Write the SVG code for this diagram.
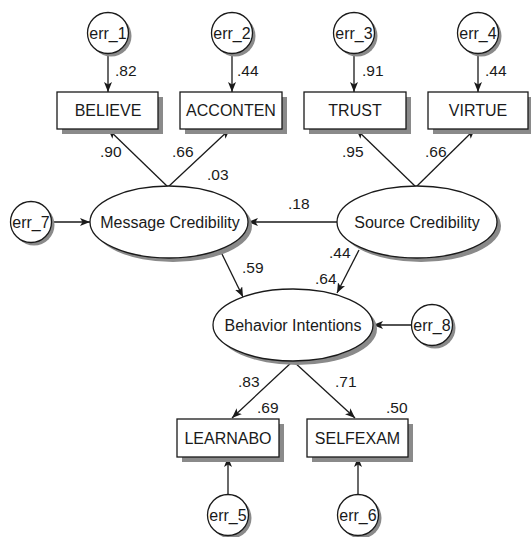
<svg xmlns="http://www.w3.org/2000/svg" width="531" height="537" viewBox="0 0 531 537">
  <style>
    .shape { fill: #fff; stroke: #1a1a1a; stroke-width: 1.3; }
    .shadow { fill: #8a8a8a; stroke: none; }
    .name { font-family: "Liberation Sans", Arial, sans-serif; font-size: 16px; fill: #1a1a1a; text-anchor: middle; dominant-baseline: central; }
    .err { font-family: "Liberation Sans", Arial, sans-serif; font-size: 16px; fill: #1a1a1a; text-anchor: middle; dominant-baseline: central; }
    .coef { font-family: "Liberation Sans", Arial, sans-serif; font-size: 15.5px; fill: #1a1a1a; dominant-baseline: central; }
    .edge { stroke: #1a1a1a; stroke-width: 1.3; fill: none; marker-end: url(#arrow); }
  </style>
  <defs>
    <marker id="arrow" viewBox="0 0 10 8" refX="10" refY="4" markerWidth="10" markerHeight="8" markerUnits="userSpaceOnUse" orient="auto">
      <path d="M0,0 L10,4 L0,8 L2.5,4 z" fill="#1a1a1a"/>
    </marker>
  </defs>

  <!-- connectors -->
  <g id="connectors">
    <line class="edge" x1="108" y1="54" x2="108" y2="92"/>
    <line class="edge" x1="232" y1="54" x2="232" y2="92"/>
    <line class="edge" x1="354" y1="54" x2="354" y2="92"/>
    <line class="edge" x1="478" y1="54" x2="478" y2="92"/>
    <line class="edge" x1="168" y1="187" x2="108" y2="129"/>
    <line class="edge" x1="168" y1="187" x2="230" y2="129"/>
    <line class="edge" x1="416" y1="187" x2="356" y2="129"/>
    <line class="edge" x1="416" y1="187" x2="475" y2="129"/>
    <line class="edge" x1="337" y1="222" x2="248" y2="222"/>
    <line class="edge" x1="52" y1="222" x2="90" y2="222"/>
    <line class="edge" x1="220" y1="250" x2="243" y2="297"/>
    <line class="edge" x1="359" y1="250" x2="337" y2="293"/>
    <line class="edge" x1="411" y1="325" x2="373" y2="325"/>
    <line class="edge" x1="293" y1="361" x2="232" y2="418"/>
    <line class="edge" x1="293" y1="361" x2="355" y2="418"/>
    <line class="edge" x1="228" y1="494" x2="228" y2="457"/>
    <line class="edge" x1="358" y1="494" x2="358" y2="457"/>
  </g>

  <!-- path coefficients -->
  <g id="coefficients">
    <text class="coef" x="115" y="70">.82</text>
    <text class="coef" x="237" y="70">.44</text>
    <text class="coef" x="362" y="70">.91</text>
    <text class="coef" x="485" y="70">.44</text>
    <text class="coef" x="100" y="151">.90</text>
    <text class="coef" x="172" y="151">.66</text>
    <text class="coef" x="207" y="174">.03</text>
    <text class="coef" x="342" y="151">.95</text>
    <text class="coef" x="425" y="151">.66</text>
    <text class="coef" x="288" y="203">.18</text>
    <text class="coef" x="242" y="267">.59</text>
    <text class="coef" x="329" y="252">.44</text>
    <text class="coef" x="315" y="278">.64</text>
    <text class="coef" x="238" y="381">.83</text>
    <text class="coef" x="257" y="407">.69</text>
    <text class="coef" x="335" y="381">.71</text>
    <text class="coef" x="386" y="407">.50</text>
  </g>

  <!-- error terms -->
  <g id="err_1"><circle class="shadow" cx="111" cy="36" r="20.5"/><circle class="shape" cx="108" cy="33" r="20.5"/><text class="err" x="108" y="33">err_1</text></g>
  <g id="err_2"><circle class="shadow" cx="235" cy="36" r="20.5"/><circle class="shape" cx="232" cy="33" r="20.5"/><text class="err" x="232" y="33">err_2</text></g>
  <g id="err_3"><circle class="shadow" cx="357" cy="36" r="20.5"/><circle class="shape" cx="354" cy="33" r="20.5"/><text class="err" x="354" y="33">err_3</text></g>
  <g id="err_4"><circle class="shadow" cx="481" cy="36" r="20.5"/><circle class="shape" cx="478" cy="33" r="20.5"/><text class="err" x="478" y="33">err_4</text></g>
  <g id="err_7"><circle class="shadow" cx="34" cy="225" r="20.5"/><circle class="shape" cx="31" cy="222" r="20.5"/><text class="err" x="31" y="222">err_7</text></g>
  <g id="err_8"><circle class="shadow" cx="435" cy="328" r="20.5"/><circle class="shape" cx="432" cy="325" r="20.5"/><text class="err" x="432" y="325">err_8</text></g>
  <g id="err_5"><circle class="shadow" cx="231" cy="518" r="20.5"/><circle class="shape" cx="228" cy="515" r="20.5"/><text class="err" x="228" y="515">err_5</text></g>
  <g id="err_6"><circle class="shadow" cx="361" cy="518" r="20.5"/><circle class="shape" cx="358" cy="515" r="20.5"/><text class="err" x="358" y="515">err_6</text></g>

  <!-- observed indicators -->
  <g id="believe"><rect class="shadow" x="62" y="97" width="101" height="37"/><rect class="shape" x="57" y="92" width="101" height="37"/><text class="name" x="108" y="110.5">BELIEVE</text></g>
  <g id="acconten"><rect class="shadow" x="185" y="97" width="102" height="37"/><rect class="shape" x="180" y="92" width="102" height="37"/><text class="name" x="231" y="110.5">ACCONTEN</text></g>
  <g id="trust"><rect class="shadow" x="309" y="97" width="102" height="37"/><rect class="shape" x="304" y="92" width="102" height="37"/><text class="name" x="355" y="110.5">TRUST</text></g>
  <g id="virtue"><rect class="shadow" x="433" y="97" width="100" height="37"/><rect class="shape" x="428" y="92" width="100" height="37"/><text class="name" x="478" y="110.5">VIRTUE</text></g>
  <g id="learnabo"><rect class="shadow" x="182" y="424" width="102" height="38"/><rect class="shape" x="177" y="419" width="102" height="38"/><text class="name" x="228" y="438">LEARNABO</text></g>
  <g id="selfexam"><rect class="shadow" x="312" y="424" width="101" height="38"/><rect class="shape" x="307" y="419" width="101" height="38"/><text class="name" x="357.5" y="438">SELFEXAM</text></g>

  <!-- latent constructs -->
  <g id="message-credibility"><ellipse class="shadow" cx="173" cy="226" rx="79" ry="36"/><ellipse class="shape" cx="169" cy="222" rx="79" ry="36"/><text class="name" x="170" y="222">Message Credibility</text></g>
  <g id="source-credibility"><ellipse class="shadow" cx="421" cy="226" rx="80" ry="36"/><ellipse class="shape" cx="417" cy="222" rx="80" ry="36"/><text class="name" x="417" y="222">Source Credibility</text></g>
  <g id="behavior-intentions"><ellipse class="shadow" cx="297" cy="329" rx="80" ry="36"/><ellipse class="shape" cx="293" cy="325" rx="80" ry="36"/><text class="name" x="293" y="325">Behavior Intentions</text></g>
</svg>
